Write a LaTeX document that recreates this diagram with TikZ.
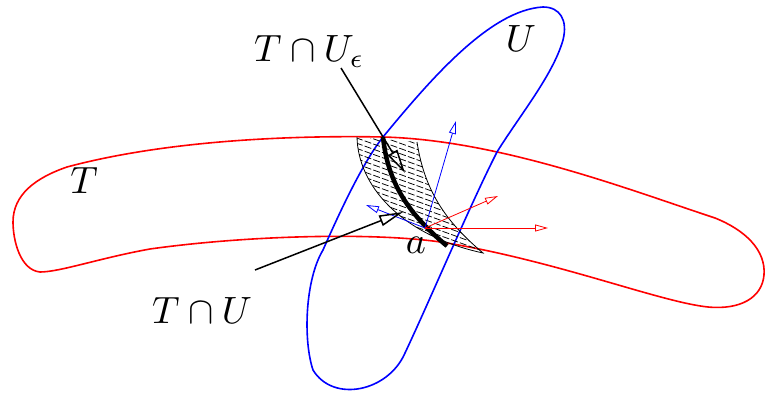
\documentclass[tikz,border=0pt]{standalone}
\usepackage{graphicx}
\usetikzlibrary{arrows.meta}
\tikzset{
  setT/.style={draw=red, line width=1.6pt},
  setU/.style={draw=blue, line width=1.6pt},
  hatchline/.style={draw=black, line width=0.75pt, dash pattern=on 7pt off 2.2pt},
  bnd/.style={draw=black, line width=0.8pt},
  curveA/.style={draw=black, line width=4.5pt},
  bigarrow/.style={draw=black, line width=1.5pt, -{Triangle[open, length=24pt, width=11pt]}},
  smallarrow/.style={line width=0.8pt, -{Triangle[open, length=13pt, width=7pt]}},
  lbl/.style={inner sep=0pt},
}
\newcommand{\biglbl}[1]{\scalebox{3.8}{#1}}
\begin{document}
\begin{tikzpicture}[x=1pt, y=-1pt]
\useasboundingbox (0,0) rectangle (765,398);
% set T
\draw[setT] (67,167) .. controls (160,142) and (280,135) .. (383,137)
  .. controls (500,140) and (630,190) .. (715,218)
  .. controls (745,230) and (766,250) .. (764,275)
  .. controls (762,298) and (740,310) .. (708,307)
  .. controls (660,302) and (560,262) .. (447,243)
  .. controls (380,232) and (250,235) .. (150,249)
  .. controls (100,258) and (60,272) .. (40,272)
  .. controls (20,270) and (13,240) .. (13,222)
  .. controls (13,195) and (35,178) .. (67,167) -- cycle;
% set U
\draw[setU] (543,7) .. controls (560,7) and (568,20) .. (563,40)
  .. controls (553,75) and (520,115) .. (497,152)
  .. controls (470,205) and (430,300) .. (405,353)
  .. controls (388,392) and (333,403) .. (313,370)
  .. controls (303,340) and (305,280) .. (323,250)
  .. controls (345,200) and (365,160) .. (383,137)
  .. controls (430,80) and (490,10) .. (543,7) -- cycle;
% hatched region
\begin{scope}
\clip (357,137) .. controls (358,185) and (400,235) .. (483,253)
      .. controls (450,225) and (425,195) .. (417,142) -- cycle;
\foreach \i in {0,...,45} {
  \draw[hatchline] (330,40+\i*5.2) -- ++(200,72);
}
\end{scope}
\draw[bnd] (357,137) .. controls (358,185) and (400,235) .. (483,253)
      .. controls (450,225) and (425,195) .. (417,142);
% thick curve
\coordinate (c0) at (383,137);
\coordinate (c1) at (447,246);
\draw[curveA] (c0) .. controls (388,185) and (410,215) .. (c1);
% vectors at a
\coordinate (p) at (425,228);
\coordinate (b1) at (456,121);
\coordinate (b2) at (366,205);
\coordinate (r1) at (498,196);
\coordinate (r2) at (548,228);
\draw[smallarrow, draw=blue] (p) -- (b1);
\draw[smallarrow, draw=blue] (p) -- (b2);
\draw[smallarrow, draw=red] (p) -- (r1);
\draw[smallarrow, draw=red] (p) -- (r2);
% labels
\node[lbl] (lT) at (84,181) {\biglbl{$T$}};
\node[lbl] (lU) at (521,39) {\biglbl{$U$}};
\node[lbl, anchor=base west] (lTUe) at (254,62) {\biglbl{$T\cap U_\epsilon$}};
\node[lbl, anchor=base west] (lTU) at (152,323) {\biglbl{$T\cap U$}};
\node[lbl, anchor=base] (la) at (416,253) {\biglbl{$a$}};
% pointer arrows
\coordinate (e1) at (341,68);
\coordinate (e2) at (405,173);
\coordinate (f1) at (255,270);
\coordinate (f2) at (403,212);
\draw[bigarrow] (e1) -- (e2);
\draw[bigarrow] (f1) -- (f2);
\end{tikzpicture}
\end{document}
